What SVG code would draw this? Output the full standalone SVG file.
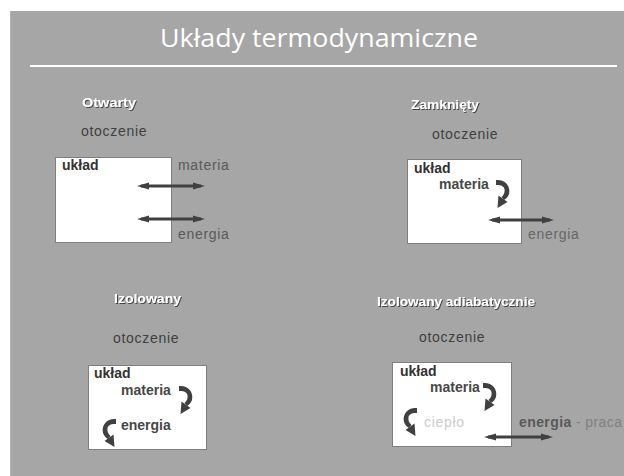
<svg xmlns="http://www.w3.org/2000/svg" width="624" height="476" viewBox="0 0 624 476">
  <defs>
    <style>
      .title { font-family: "Open Sans", "Liberation Sans", sans-serif; font-weight: normal; font-size: 26px; fill: #ffffff; }
      .head { font-family: "Liberation Sans", Arial, sans-serif; font-weight: bold; font-size: 12px; fill: #ffffff; filter: url(#shadow); }
      .env { font-family: "Liberation Sans", Arial, sans-serif; font-size: 14px; letter-spacing: 0.7px; fill: #404040; }
      .flow { font-family: "Liberation Sans", Arial, sans-serif; font-size: 14px; letter-spacing: 0.7px; fill: #595959; }
      .sys { font-family: "Liberation Sans", Arial, sans-serif; font-weight: bold; font-size: 14px; fill: #333333; }
      .inner { font-family: "Liberation Sans", Arial, sans-serif; font-weight: bold; font-size: 14px; fill: #474747; }
      .box { fill: #ffffff; stroke: #7f7f7f; stroke-width: 1; }
      .dbl { stroke: #404040; stroke-width: 3; fill: none; marker-start: url(#head); marker-end: url(#head); }
      .bend { fill: #404040; }
    </style>
    <filter id="shadow" x="-10%" y="-30%" width="130%" height="180%">
      <feDropShadow dx="1" dy="1" stdDeviation="0.5" flood-color="#3a3a3a" flood-opacity="0.9"/>
    </filter>
    <marker id="head" markerUnits="userSpaceOnUse" markerWidth="12" markerHeight="10" refX="8" refY="5" orient="auto-start-reverse" viewBox="0 0 12 10">
      <path d="M0,1.5 L12,5 L0,8.5 Z" fill="#404040"/>
    </marker>
    <!-- curved arrow bending to the right, tip at the lower left -->
    <g id="bend">
      <path d="M0,0 C8,-1 15,5 13,14 C12,17 10,19 8,20 L5.5,17 C8,15 9,12 8.5,9 C8,6 4,4.5 0,5 Z" class="bend"/>
      <path d="M2.5,15.5 L11.5,22 L1.5,28 Z" class="bend"/>
    </g>
  </defs>

  <!-- slide background -->
  <rect x="0" y="0" width="624" height="476" fill="#ffffff"/>
  <rect x="10" y="11" width="614" height="465" fill="#a6a6a6"/>
  <line x1="10.5" y1="11" x2="10.5" y2="476" stroke="#b4b4b4" stroke-width="1"/>

  <!-- title -->
  <g id="title">
    <text class="title" x="160" y="47" textLength="318" lengthAdjust="spacingAndGlyphs">Układy termodynamiczne</text>
    <line x1="30" y1="66" x2="617" y2="66" stroke="#ffffff" stroke-width="2"/>
  </g>

  <!-- open system -->
  <g id="open">
    <text class="head" x="82" y="107" textLength="54" lengthAdjust="spacingAndGlyphs">Otwarty</text>
    <text class="env" x="81" y="136">otoczenie</text>
    <rect class="box" x="55.5" y="157.5" width="116" height="85"/>
    <text class="sys" x="62" y="170">układ</text>
    <text class="flow" x="178" y="170">materia</text>
    <text class="flow" x="178" y="239">energia</text>
  </g>

  <!-- closed system -->
  <g id="closed">
    <text class="head" x="411" y="109" textLength="68" lengthAdjust="spacingAndGlyphs">Zamknięty</text>
    <text class="env" x="432" y="139">otoczenie</text>
    <rect class="box" x="407.5" y="159.5" width="114" height="84"/>
    <text class="sys" x="414" y="173">układ</text>
    <text class="inner" x="439" y="189">materia</text>
    <use href="#bend" x="496" y="180"/>
    <text class="flow" x="528" y="239" style="fill:#666666">energia</text>
  </g>

  <!-- isolated system -->
  <g id="isolated">
    <text class="head" x="114" y="303" textLength="67" lengthAdjust="spacingAndGlyphs">Izolowany</text>
    <text class="env" x="113" y="343">otoczenie</text>
    <rect class="box" x="88.5" y="365.5" width="118" height="84"/>
    <text class="sys" x="94" y="378">układ</text>
    <text class="inner" x="121" y="395">materia</text>
    <use href="#bend" x="179" y="386"/>
    <text class="inner" x="121" y="430">energia</text>
    <use href="#bend" transform="translate(116,419) scale(-1,1)"/>
  </g>

  <!-- adiabatically isolated system -->
  <g id="adiabatic">
    <text class="head" x="377" y="306" textLength="158" lengthAdjust="spacingAndGlyphs">Izolowany adiabatycznie</text>
    <text class="env" x="419" y="342">otoczenie</text>
    <rect class="box" x="392.5" y="362.5" width="119" height="84"/>
    <text class="sys" x="400" y="376">układ</text>
    <text class="inner" x="430" y="392">materia</text>
    <use href="#bend" x="483" y="383"/>
    <text class="flow" x="424" y="427" style="fill:#cccccc">ciepło</text>
    <use href="#bend" transform="translate(417,408) scale(-1,1)"/>
    <text x="519" y="427" textLength="103" lengthAdjust="spacing" font-family="Liberation Sans, Arial, sans-serif" font-size="14" font-weight="bold" fill="#595959">energia<tspan font-weight="normal" fill="#808080"> - praca</tspan></text>
  </g>

  <!-- two-way exchange arrows -->
  <g id="connectors">
    <line class="dbl" x1="141" y1="186" x2="201" y2="186"/>
    <line class="dbl" x1="141" y1="219" x2="201" y2="219"/>
    <line class="dbl" x1="492" y1="220" x2="550" y2="220"/>
    <line class="dbl" x1="488" y1="437" x2="549" y2="437"/>
  </g>
</svg>
